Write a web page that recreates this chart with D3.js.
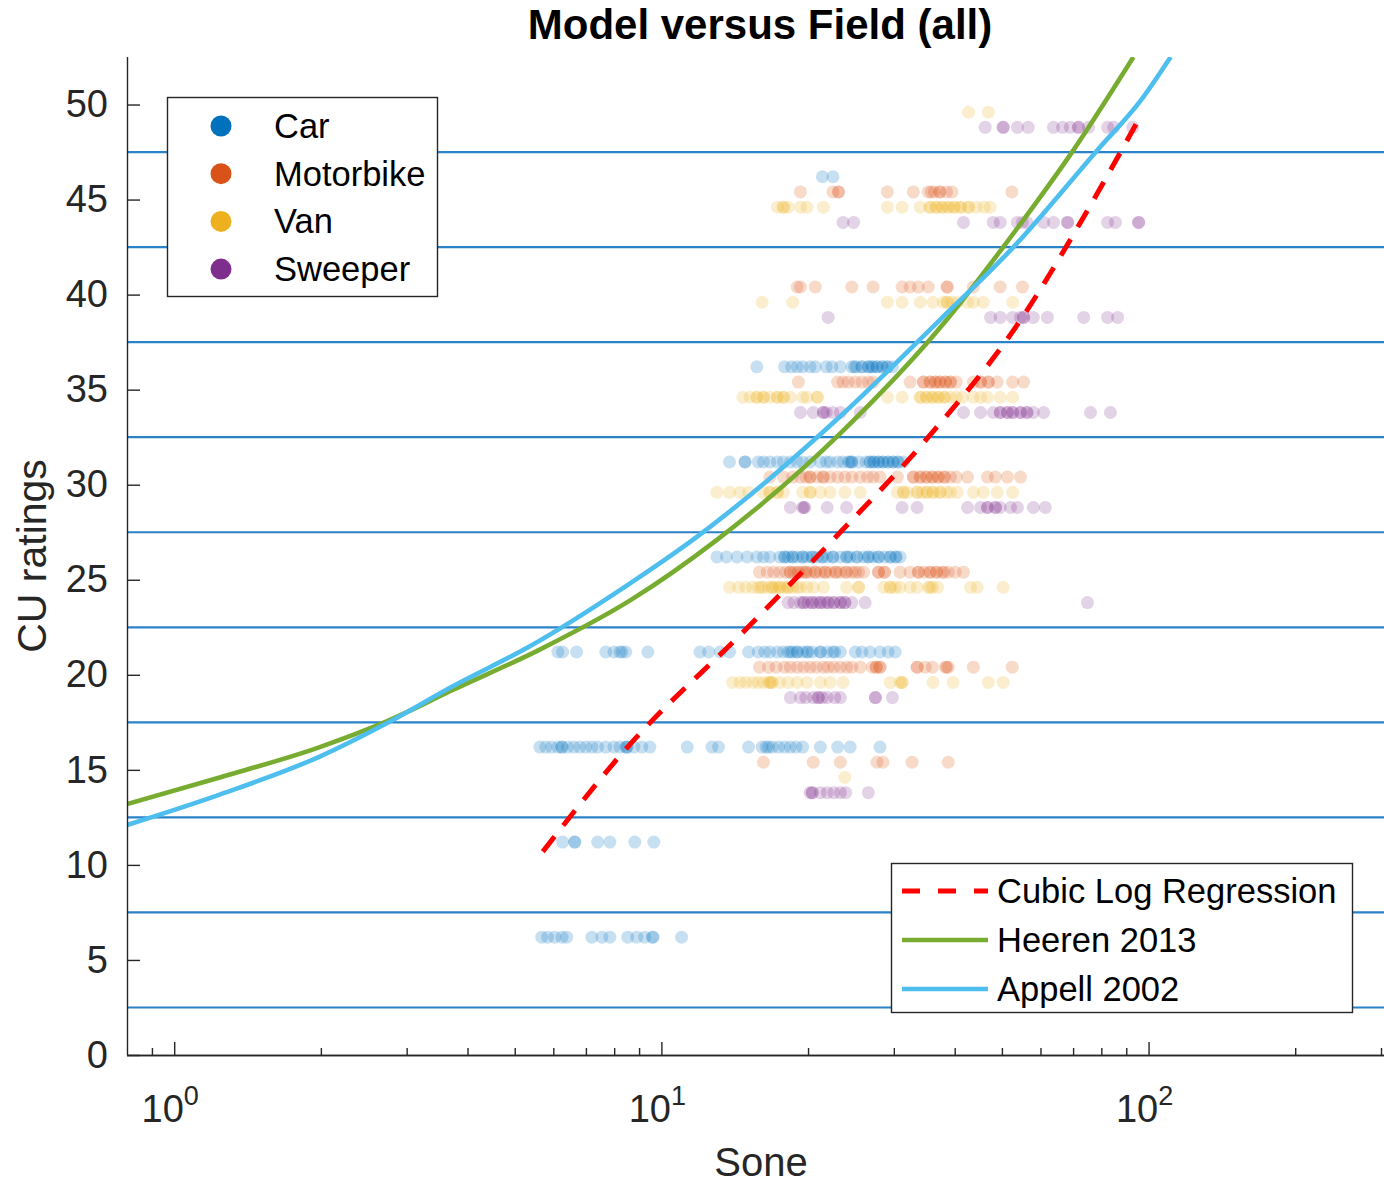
<!DOCTYPE html>
<html>
<head>
<meta charset="utf-8">
<script src="https://cdn.jsdelivr.net/npm/d3@7"></script>
<style>
  body { margin: 0; background: #fff; }
  text { font-family: "Liberation Sans", Arial, Helvetica, sans-serif; fill: #262626; }
</style>
</head>
<body>
<svg id="chart" width="1384" height="1183"></svg>
<script>
// categories and rating levels (one row of dots per level, shifted per category)
const categories = ['Car', 'Motorbike', 'Van', 'Sweeper'];
const categoryColors = ['#0072BD', '#D95319', '#EDB120', '#7E2F8E'];
const ratingLevels = [5, 10, 15, 20, 25, 30, 35, 40, 45, 50];
const categoryOffset = [1.2, 0.4, -0.4, -1.2];

// sone values, one list per rating level (5 .. 50)
const carSone = [
  [5.68,5.84,6.04,6.25,6.39,7.2,7.55,7.84,8.53,8.9,9.24,9.6,9.6,11.0],
  [6.27,6.64,6.64,7.4,7.84,8.82,9.65],
  [5.63,5.79,5.95,6.13,6.25,6.25,6.42,6.61,6.8,7.0,7.2,7.4,7.69,7.99,8.22,8.45,8.5,8.5,8.78,9.12,9.47,11.3,12.7,13.1,15.1,16.1,16.4,16.6,16.9,17.4,17.9,18.4,18.9,19.5,21.2,23.0,24.4,28.1],
  [6.13,6.27,6.7,7.69,7.99,8.22,8.3,8.45,9.38,12.0,12.5,13.2,13.8,15.1,15.8,16.3,16.7,17.3,17.8,18.2,18.4,18.6,19.0,19.0,19.5,19.9,20.0,20.4,21.2,21.2,21.9,22.5,22.7,23.3,25.0,25.8,26.8,28.1,29.2,30.2],
  [13.0,13.6,14.3,15.0,15.7,16.2,16.7,17.5,17.9,17.9,18.2,18.6,18.6,19.0,19.5,19.5,19.9,20.4,20.4,20.9,21.4,21.4,21.9,22.5,22.5,23.3,24.0,24.0,24.4,25.2,25.2,26.0,26.6,26.6,27.2,27.9,27.9,28.7,29.5,29.5,30.3,30.3,30.9],
  [13.8,14.85,14.85,15.8,16.2,16.7,17.3,17.8,18.4,19.0,19.5,20.2,21.2,21.8,22.2,23.0,23.6,24.2,24.4,24.6,24.6,25.4,26.3,26.8,26.8,27.3,27.3,27.9,27.9,28.5,28.5,29.2,29.2,29.9,29.9,30.6,30.6,31.4],
  [15.7,17.9,18.5,19.0,19.5,20.2,20.7,21.8,22.4,23.3,24.6,24.9,25.1,25.8,25.8,26.6,26.6,27.1,27.1,27.7,27.7,28.4,28.4,29.1,29.1,29.8],
  [],
  [21.4,22.5],
  []
];
const motorbikeSone = [
  [],
  [],
  [16.2,20.5,23.3,27.7,28.5,32.7,38.8],
  [15.9,16.6,17.2,17.9,18.4,19.0,19.6,20.2,20.8,21.5,22.0,22.6,23.3,24.0,24.6,25.6,27.1,27.6,27.6,28.1,28.1,33.5,33.5,34.8,36.0,38.3,38.5,38.8,43.7,52.5],
  [15.9,16.5,17.0,17.5,18.0,18.4,18.4,18.7,19.1,19.1,19.5,19.8,19.8,20.2,20.7,20.7,21.2,21.7,21.7,22.2,22.8,22.8,23.3,23.9,24.0,24.6,25.0,25.4,26.0,27.9,27.9,28.7,28.7,30.9,32.4,33.7,33.7,34.6,35.6,35.6,36.7,36.7,37.7,38.0,38.8,40.1,41.7],
  [16.7,17.8,18.6,19.3,19.8,20.2,20.2,20.9,21.5,21.5,22.2,23.0,23.8,24.6,25.6,26.5,27.2,28.1,30.5,32.9,32.9,34.0,34.0,35.0,35.0,36.0,36.0,37.0,37.0,38.1,38.1,39.2,40.3,42.5,46.7,48.5,51.3,54.6],
  [19.1,23.0,23.6,24.2,25.0,25.8,26.6,27.2,32.4,34.5,34.5,35.6,35.6,36.5,36.5,37.3,37.3,38.3,38.3,39.2,39.2,40.3,43.7,45.2,45.2,46.9,46.9,48.9,52.6,55.4],
  [19.0,19.3,20.7,24.6,27.2,31.2,32.4,33.7,35.3,38.6,38.6,43.7,49.6,55.1],
  [19.3,22.5,23.1,23.1,29.1,32.9,35.3,35.8,36.3,37.3,37.3,38.5,39.5,52.4],
  []
];
const vanSone = [
  [],
  [],
  [23.8],
  [14.0,14.5,14.9,15.4,15.8,16.2,16.6,16.7,16.8,16.9,17.5,18.2,19.0,19.9,21.2,22.2,23.6,29.5,30.9,31.2,31.2,36.1,39.7,46.9,50.3],
  [13.8,14.4,14.9,15.4,15.8,16.0,16.2,16.6,16.9,16.9,17.2,17.5,17.5,17.9,18.2,18.2,18.6,19.0,19.3,19.9,20.5,21.5,24.0,25.4,25.4,28.6,29.5,29.5,30.2,30.9,32.4,33.5,35.3,35.6,36.0,36.9,43.1,44.5,50.3],
  [13.0,13.8,14.5,15.1,16.2,16.7,16.7,17.3,17.3,17.8,19.5,20.2,20.2,21.2,22.2,23.8,25.6,30.5,31.4,31.4,32.0,33.5,33.5,34.3,35.1,35.1,36.1,36.1,37.3,37.3,38.5,39.2,40.5,43.7,45.8,48.9,52.6],
  [14.7,15.2,15.7,15.7,16.2,16.2,16.7,17.3,17.3,17.8,17.8,18.4,19.5,19.9,20.9,20.9,29.1,31.2,34.0,34.0,35.0,35.0,36.0,36.0,37.0,37.0,38.1,38.1,39.2,40.3,41.5,43.7,45.2,46.7,49.6,52.6],
  [16.1,18.6,29.1,31.2,34.0,36.1,37.9,38.6,38.6,39.5,40.5,42.5,43.7,45.8,52.6],
  [17.3,17.8,17.8,18.2,19.3,19.9,21.5,29.1,31.2,34.0,35.6,35.6,36.7,36.7,37.7,37.7,38.8,38.8,39.9,39.9,41.1,41.1,42.7,42.7,44.3,46.0,47.3],
  [42.7,46.9]
];
const sweeperSone = [
  [],
  [],
  [20.2,20.4,20.4,21.2,21.9,22.6,23.3,23.9,26.6],
  [18.4,19.3,19.8,20.5,21.0,21.0,21.4,21.9,22.7,23.3,27.5,27.5,29.8],
  [18.2,18.7,19.3,19.6,19.6,20.0,20.4,20.4,20.8,21.2,21.2,21.6,22.0,22.0,22.6,22.6,23.3,23.3,23.8,23.8,24.6,26.2,74.9],
  [18.4,19.5,19.6,19.7,21.9,24.0,31.2,33.5,42.5,45.2,46.7,46.7,48.5,48.5,49.6,52.1,53.8,58.0,61.4],
  [19.3,20.5,21.5,21.5,21.8,22.5,23.3,25.6,41.7,45.2,48.0,49.6,49.6,51.3,51.3,52.6,52.6,54.6,54.6,56.3,56.3,58.0,60.9,76.0,83.5],
  [22.0,47.4,49.6,52.6,54.6,55.4,55.4,58.0,62.0,73.6,82.4,86.4],
  [23.6,24.8,41.7,48.0,49.6,53.8,55.1,56.3,60.9,63.8,68.2,68.2,82.4,85.5,95.4,95.4],
  [46.2,50.3,50.3,53.8,56.6,63.8,66.6,69.1,71.8,71.8,75.3,82.4,84.8,92.8]
];

// model curves: [sone, CU rating]
const regressionCurve = [[5.71,10.7],[8.49,16.15],[15.0,22.46],[22.5,27.1],[35.3,32.5],[54.6,38.66],[72.5,43.8],[94.9,49.1]];
const heerenCurve = [[0.8,13.2],[1.24,14.6],[1.99,16.2],[2.73,17.55],[3.73,19.2],[5.6,21.3],[8.61,23.9],[13.0,27.1],[23.3,32.7],[38.6,38.7],[50.3,42.5],[70.1,47.6],[93.1,52.5]];
const appellCurve = [[0.8,12.1],[1.24,13.7],[1.99,15.7],[2.73,17.45],[3.73,19.4],[5.37,21.5],[8.61,24.8],[11.6,27.1],[23.3,33.6],[37.4,38.7],[52.8,42.5],[78.5,47.6],[96.3,50.2],[111,52.5]];
const curveNames = ['Cubic Log Regression', 'Heeren 2013', 'Appell 2002'];
const curveColors = ['#FF0000', '#77AC30', '#4DBEEE'];

// rating class boundaries and ticks
const bandEdges = [2.5, 7.5, 12.5, 17.5, 22.5, 27.5, 32.5, 37.5, 42.5, 47.5];
const yTicks = [0, 5, 10, 15, 20, 25, 30, 35, 40, 45, 50];
const xMajorTicks = [1, 10, 100];
const xMinorTicks = [0.9, 2, 3, 4, 5, 6, 7, 8, 9, 20, 30, 40, 50, 60, 70, 80, 90, 200, 300];

const svg = d3.select('#chart');
const plotLeft = 127, plotRight = 1381, plotTop = 57, plotBottom = 1055;

const x = d3.scaleLog().domain([0.8, 300]).range([plotLeft, plotRight]);
const y = d3.scaleLinear().domain([0, 52.5]).range([plotBottom, plotTop]);

const defs = svg.append('defs');
defs.append('clipPath').attr('id', 'plotclip')
  .append('rect').attr('x', plotLeft).attr('y', plotTop).attr('width', 1384 - plotLeft).attr('height', plotBottom - plotTop);
defs.append('filter').attr('id', 'soft')
  .append('feGaussianBlur').attr('stdDeviation', 0.7);

const plot = svg.append('g').attr('clip-path', 'url(#plotclip)');

// horizontal class boundaries
plot.selectAll('.band')
  .data(bandEdges)
  .enter().append('line')
  .attr('class', 'band')
  .attr('x1', plotLeft).attr('x2', 1384)
  .attr('y1', d => y(d)).attr('y2', d => y(d))
  .attr('stroke', '#2a82c8').attr('stroke-width', 2.2);

// scatter points
const soneByCategory = [carSone, motorbikeSone, vanSone, sweeperSone];
const points = [];
soneByCategory.forEach((rows, ci) => {
  rows.forEach((vals, ri) => {
    vals.forEach(s => points.push({ ci: ci, sone: s, rating: ratingLevels[ri] + categoryOffset[ci] }));
  });
});

plot.append('g').attr('filter', 'url(#soft)')
  .selectAll('circle')
  .data(points)
  .enter().append('circle')
  .attr('cx', d => x(d.sone))
  .attr('cy', d => y(d.rating))
  .attr('r', 6.5)
  .attr('fill', d => categoryColors[d.ci])
  .attr('fill-opacity', 0.22);

// curves
const line = d3.line()
  .x(d => x(d[0]))
  .y(d => y(d[1]))
  .curve(d3.curveMonotoneX);

[regressionCurve, heerenCurve, appellCurve].forEach((c, i) => {
  plot.append('path')
    .datum(c)
    .attr('d', line)
    .attr('fill', 'none')
    .attr('stroke', curveColors[i])
    .attr('stroke-width', i === 0 ? 5 : 4.6)
    .attr('stroke-dasharray', i === 0 ? '19,14' : null);
});

// axes
const axisColor = '#262626';

const yAxis = svg.append('g')
  .attr('transform', `translate(${plotLeft},0)`)
  .call(d3.axisLeft(y).tickValues(yTicks).tickSize(-13).tickSizeOuter(0).tickPadding(19));
yAxis.selectAll('text').attr('font-size', 38).style('fill', axisColor).style('font-family', '"Liberation Sans", Arial, sans-serif');

const xMinor = svg.append('g')
  .attr('transform', `translate(0,${plotBottom})`)
  .call(d3.axisBottom(x).tickValues(xMinorTicks).tickSize(-7).tickSizeOuter(0).tickFormat(''));
const xAxis = svg.append('g')
  .attr('transform', `translate(0,${plotBottom})`)
  .call(d3.axisBottom(x).tickValues(xMajorTicks).tickSize(-13).tickSizeOuter(0).tickFormat(''));

[yAxis, xMinor, xAxis].forEach(g => {
  g.selectAll('path, line').attr('stroke', axisColor).attr('stroke-width', 1.4);
});
xMinor.select('.domain').attr('d', `M${plotLeft},0.5H1384`);
xAxis.select('.domain').attr('d', `M${plotLeft},0.5H1384`);
yAxis.select('.domain').attr('d', `M0.5,${plotBottom}V${plotTop}`);

// x tick labels as powers of ten
xMajorTicks.forEach(v => {
  const t = svg.append('text')
    .attr('x', x(v) - 4)
    .attr('y', 1122)
    .attr('text-anchor', 'middle')
    .attr('font-size', 38);
  t.append('tspan').text('10');
  t.append('tspan').attr('font-size', 27).attr('dy', -17).text(Math.round(Math.log10(v)));
});

// labels and title
svg.append('text')
  .attr('x', 761).attr('y', 1176)
  .attr('text-anchor', 'middle')
  .attr('font-size', 40)
  .text('Sone');

svg.append('text')
  .attr('transform', `translate(46,${(plotTop + plotBottom) / 2}) rotate(-90)`)
  .attr('text-anchor', 'middle')
  .attr('font-size', 41)
  .text('CU ratings');

svg.append('text')
  .attr('x', 760).attr('y', 39)
  .attr('text-anchor', 'middle')
  .attr('font-size', 42)
  .attr('font-weight', 'bold')
  .style('fill', '#000')
  .text('Model versus Field (all)');

// category legend
const leg1 = svg.append('g');
leg1.append('rect')
  .attr('x', 167.5).attr('y', 97.5).attr('width', 270).attr('height', 199)
  .attr('fill', '#fff').attr('stroke', axisColor).attr('stroke-width', 1.4);
categories.forEach((c, i) => {
  const cy = 126 + i * 47.7;
  leg1.append('circle').attr('cx', 221).attr('cy', cy).attr('r', 10.5).attr('fill', categoryColors[i]);
  leg1.append('text').attr('x', 274).attr('y', cy + 12).attr('font-size', 34.5).style('fill', '#000').text(c);
});

// curve legend
const leg2 = svg.append('g');
leg2.append('rect')
  .attr('x', 891.5).attr('y', 863.5).attr('width', 461).attr('height', 149)
  .attr('fill', '#fff').attr('stroke', axisColor).attr('stroke-width', 1.4);
curveNames.forEach((c, i) => {
  const cy = 891 + i * 49;
  leg2.append('line')
    .attr('x1', 902).attr('x2', 988).attr('y1', cy).attr('y2', cy)
    .attr('stroke', curveColors[i]).attr('stroke-width', i === 0 ? 5 : 4.6)
    .attr('stroke-dasharray', i === 0 ? '18,18' : null);
  leg2.append('text').attr('x', 997).attr('y', cy + 12).attr('font-size', 34.5).style('fill', '#000').text(c);
});
</script>
</body>
</html>
